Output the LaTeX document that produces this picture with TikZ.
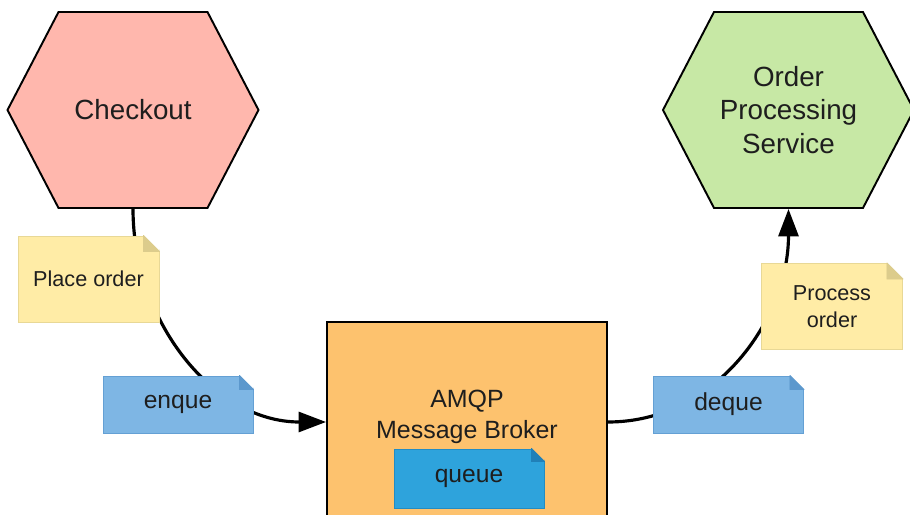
\documentclass[tikz,border=0pt]{standalone}
\usepackage{fontspec}
\setmainfont{Liberation Sans}
\usetikzlibrary{shapes.symbols,arrows.meta}

\definecolor{checkoutred}{RGB}{255,183,173}
\definecolor{servicegreen}{RGB}{199,232,165}
\definecolor{brokerorange}{RGB}{253,194,110}
\definecolor{noteyellow}{RGB}{255,236,166}
\definecolor{noteyellowline}{RGB}{232,216,150}
\definecolor{noteyellowfold}{RGB}{220,204,140}
\definecolor{noteblue}{RGB}{126,182,228}
\definecolor{noteblueline}{RGB}{100,160,212}
\definecolor{notebluefold}{RGB}{92,152,205}
\definecolor{queueblue}{RGB}{46,163,220}
\definecolor{queueblueline}{RGB}{34,140,196}
\definecolor{queuebluefold}{RGB}{32,128,184}
\definecolor{textgrey}{RGB}{30,30,30}

% folded corner of a note: [background], node, fold colour, size
\newcommand{\dogear}[4][white]{%
  \fill[#1] ([xshift=-#4]#2.north east) -- ([shift={(0.05,0.05)}]#2.north east) -- ([yshift=-#4]#2.north east) -- cycle;
  \filldraw[fill=#3, draw=#3, line width=0.5pt, line join=round] ([xshift=-#4]#2.north east) -- ([yshift=-#4]#2.north east) -- ([shift={(-#4,-#4)}]#2.north east) -- cycle;
}

\tikzset{
  service/.style={signal, signal to=east and west, signal pointer angle=125, draw=black, line width=1.1pt,
    minimum width=5.02cm, minimum height=3.92cm, align=center, inner sep=0pt,
    font=\fontsize{15.8}{19}\selectfont, text=textgrey},
  broker/.style={rectangle, draw=black, line width=1.1pt, fill=brokerorange, minimum width=5.6cm, minimum height=4cm},
  note/.style={rectangle, line width=0.5pt, align=center, inner sep=0pt, text=textgrey},
  yellownote/.style={note, fill=noteyellow, draw=noteyellowline, minimum width=2.82cm, minimum height=1.72cm,
    font=\fontsize{12.3}{15.4}\selectfont},
  bluenote/.style={note, fill=noteblue, draw=noteblueline, minimum width=3cm, minimum height=1.14cm,
    font=\fontsize{14}{17}\selectfont},
  flow/.style={line width=1.8pt, -{Triangle[length=0.55cm,width=0.4cm]}}
}

\begin{document}
\begin{tikzpicture}
    \useasboundingbox (0,0) rectangle (18.2,10.3);
    \clip (0,0) rectangle (18.2,10.3);
    \node[service, fill=checkoutred] (checkout) at (2.66,8.1) {Checkout};
    \node[service, fill=servicegreen] (orders) at (15.77,8.1) {Order\\Processing\\Service};
    \node[broker] (broker) at (9.34,1.86) {};
    \node[align=center, text=textgrey, font=\fontsize{14.2}{17.6}\selectfont] (brokertext) at (9.34,1.97) {AMQP\\Message Broker};
    % messages
    \draw[flow] (checkout.south) to[out=-90,in=180] (broker.west);
    \draw[flow] (broker.east) to[out=0,in=-90] (orders.south);
    % notes
    \node[yellownote] (place) at (1.77,4.72) {Place order};
    \node[yellownote] (process) at (16.64,4.17) {Process\\order};
    \node[bluenote] (enque) at (3.56,2.21) {enque};
    \node[bluenote] (deque) at (14.57,2.21) {deque};
    \node[bluenote, fill=queueblue, draw=queueblueline, minimum height=1.18cm] (queue) at (9.38,0.73) {queue};
    \dogear{place}{noteyellowfold}{0.32cm}
    \dogear{process}{noteyellowfold}{0.32cm}
    \dogear{enque}{notebluefold}{0.28cm}
    \dogear{deque}{notebluefold}{0.28cm}
    \dogear[brokerorange]{queue}{queuebluefold}{0.26cm}
\end{tikzpicture}
\end{document}
